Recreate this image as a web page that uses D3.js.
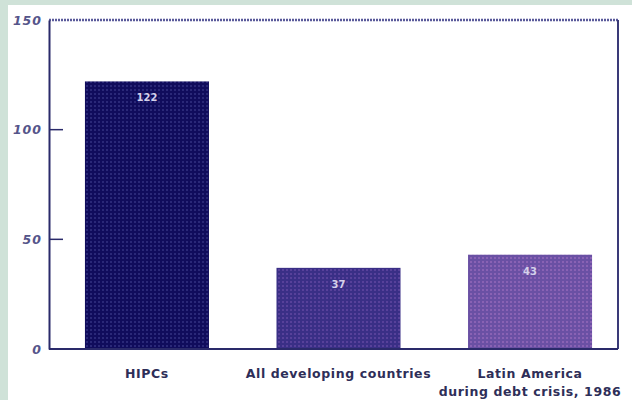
<!DOCTYPE html>
<html>
<head>
<meta charset="utf-8">
<script src="https://cdnjs.cloudflare.com/ajax/libs/d3/7.8.5/d3.min.js"></script>
<style>
  body { margin: 0; padding: 0; background: #cfe2d8; }
  svg { display: block; }
</style>
</head>
<body>
<div id="row"></div>
<script>

// chart values
var categories = ["HIPCs", "All developing countries", "Latin America"];
var labelLines = [["HIPCs"], ["All developing countries"], ["Latin America", "during debt crisis, 1986"]];
var values = [122, 37, 43];
var yTicks = [0, 50, 100, 150];

var svgWidth = 632;
var svgHeight = 400;

var margin = { top: 20, bottom: 51, left: 49, right: 14 };
var width = svgWidth - margin.left - margin.right;
var height = svgHeight - margin.top - margin.bottom;

var svg = d3.select("#row")
  .append("svg")
  .attr("width", svgWidth)
  .attr("height", svgHeight);

// green page strip on the top and left, white panel behind the chart
svg.append("rect").attr("width", svgWidth).attr("height", svgHeight).attr("fill", "#cfe2d8");
svg.append("rect").attr("x", 8).attr("y", 5)
  .attr("width", svgWidth - 8).attr("height", svgHeight - 5).attr("fill", "#ffffff");

// dotted fills like the halftone of the original
var fills = [
  { id: "p0", base: "#100c5c", dot: "#4b4a9c" },
  { id: "p1", base: "#3a2f86", dot: "#7b58b4" },
  { id: "p2", base: "#6a50a4", dot: "#b078c8" }
];
var defs = svg.append("defs");
fills.forEach(function(f) {
  var p = defs.append("pattern")
    .attr("id", f.id)
    .attr("patternUnits", "userSpaceOnUse")
    .attr("width", 4).attr("height", 4);
  p.append("rect").attr("width", 4).attr("height", 4).attr("fill", f.base);
  p.append("circle").attr("cx", 2).attr("cy", 2).attr("r", 0.8).attr("fill", f.dot);
});

var chartGroup = svg.append("g")
  .attr("transform", `translate(${margin.left}, ${margin.top})`);

var xScale = d3.scaleBand()
  .domain(categories)
  .range([3, 576])
  .paddingInner(0.3525)
  .paddingOuter(0.172);

var yScale = d3.scaleLinear()
  .domain([0, 150])
  .range([height, 0]);

// bars
chartGroup.selectAll(".bar")
  .data(values)
  .enter()
  .append("rect")
  .attr("class", "bar")
  .attr("x", (d, i) => xScale(categories[i]))
  .attr("y", d => yScale(d))
  .attr("width", xScale.bandwidth())
  .attr("height", d => height - yScale(d))
  .attr("fill", (d, i) => `url(#${fills[i].id})`);

// value labels inside the bars
chartGroup.selectAll(".val")
  .data(values)
  .enter()
  .append("text")
  .attr("x", (d, i) => xScale(categories[i]) + xScale.bandwidth() / 2)
  .attr("y", d => yScale(d) + 20)
  .attr("text-anchor", "middle")
  .attr("font-family", "DejaVu Sans")
  .attr("font-weight", "bold")
  .attr("font-size", 10)
  .attr("fill", "#d4d0ea")
  .text(d => d);

// frame: top dashed, sides and base solid
chartGroup.append("line")
  .attr("x1", 0).attr("x2", width).attr("y1", 0).attr("y2", 0)
  .attr("stroke", "#5a5a9a").attr("stroke-width", 2.5)
  .attr("stroke-dasharray", "2,1");
chartGroup.append("line")
  .attr("x1", width).attr("x2", width).attr("y1", 0).attr("y2", height)
  .attr("stroke", "#3a3a78").attr("stroke-width", 2);

var leftAxis = d3.axisLeft(yScale)
  .tickValues(yTicks)
  .tickSize(0)
  .tickPadding(7)
  .tickFormat(d3.format("d"));

var yAxis = chartGroup.append("g").call(leftAxis);
yAxis.select(".domain").attr("stroke", "#2a2a6a").attr("stroke-width", 2);
yAxis.selectAll("text")
  .attr("font-family", "DejaVu Sans")
  .attr("font-style", "italic")
  .attr("font-weight", "bold")
  .attr("font-size", 12.5)
  .attr("letter-spacing", 1)
  .attr("fill", "#55558a");

// short inner ticks at 50 and 100
chartGroup.selectAll(".itick")
  .data(yTicks.filter(d => d > 0 && d < 150))
  .enter()
  .append("line")
  .attr("x1", 0).attr("x2", 14)
  .attr("y1", d => yScale(d)).attr("y2", d => yScale(d))
  .attr("stroke", "#2a2a6a").attr("stroke-width", 1.5);

chartGroup.append("line")
  .attr("x1", 0).attr("x2", width).attr("y1", height).attr("y2", height)
  .attr("stroke", "#2a2a6a").attr("stroke-width", 2);

// category labels
var cat = chartGroup.selectAll(".cat")
  .data(labelLines)
  .enter()
  .append("text")
  .attr("text-anchor", "middle")
  .attr("font-family", "DejaVu Sans")
  .attr("font-weight", "bold")
  .attr("font-size", 12.5)
  .attr("letter-spacing", 0.6)
  .attr("fill", "#2e2e58");

cat.selectAll("tspan")
  .data((d, i) => d.map(t => ({ t: t, i: i })))
  .enter()
  .append("tspan")
  .attr("x", d => xScale(categories[d.i]) + xScale.bandwidth() / 2)
  .attr("y", (d, j) => height + 29 + j * 18)
  .text(d => d.t);

</script>
</body>
</html>
